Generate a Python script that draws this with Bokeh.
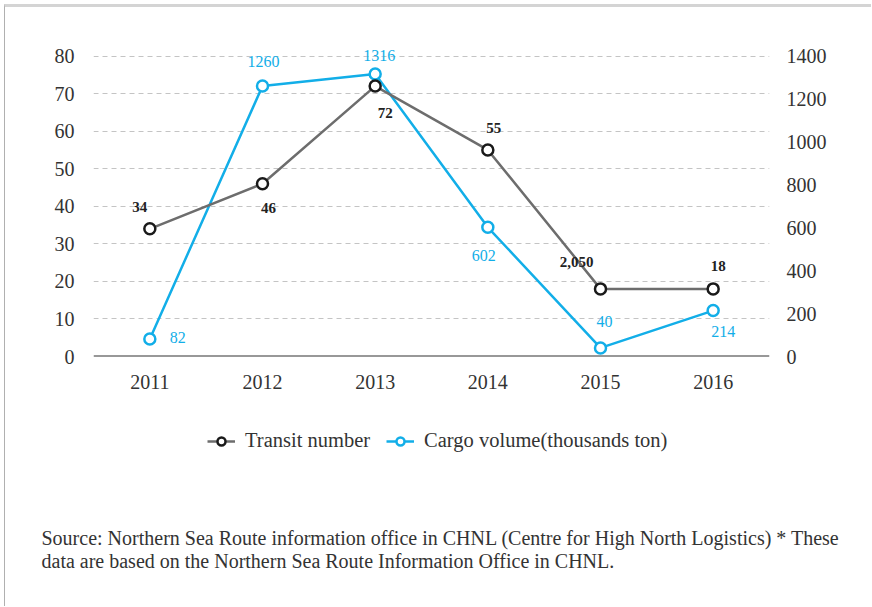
from bokeh.plotting import figure
from bokeh.layouts import column
from bokeh.models import (Range1d, LinearAxis, ColumnDataSource, Legend, LegendItem,
                          Label, Span, FixedTicker)
from bokeh.core.properties import value
from bokeh.embed import file_html
from bokeh.resources import INLINE

years = ["2011", "2012", "2013", "2014", "2015", "2016"]
transit = [34, 46, 72, 55, 18, 18]
transit_labels = ["34", "46", "72", "55", "2,050", "18"]
cargo = [82, 1260, 1316, 602, 40, 214]
cargo_labels = ["82", "1260", "1316", "602", "40", "214"]
left_ticks = [0, 10, 20, 30, 40, 50, 60, 70, 80]
right_ticks = [0, 200, 400, 600, 800, 1000, 1200, 1400]
series_names = ["Transit number", "Cargo volume(thousands ton)"]
source_lines = ["Source: Northern Sea Route information office in CHNL (Centre for High North Logistics) * These",
                "data are based on the Northern Sea Route Information Office in CHNL."]

# label offsets (screen px)
t_dx = [-10, 6, 10, 6, -24, 5]
t_dy = [-22, 24, 27, -22, -27, -23]
c_dx = [28, 1, 4, -4, 4, 10]
c_dy = [-1, -25, -19, 28, -26, 21]

FONT = "Liberation Serif"
GRAY = "#6d6d6d"
BLUE = "#12aee8"
W = 866
H1 = 394
H2 = 205

p = figure(width=W, height=H1, x_range=years, y_range=Range1d(0, 86),
           output_backend="svg", toolbar_location=None,
           min_border_left=88, min_border_right=102, min_border_top=26, min_border_bottom=45)
p.extra_y_ranges = {"right": Range1d(0, 86 * 17.5)}
p.outline_line_color = None
p.background_fill_color = "white"

# axes
p.yaxis.ticker = FixedTicker(ticks=left_ticks)
ra = LinearAxis(y_range_name="right", ticker=FixedTicker(ticks=right_ticks))
p.add_layout(ra, "right")
for ax, so in [(p.yaxis[0], 13), (ra, 11)]:
    ax.axis_line_color = None
    ax.major_tick_line_color = None
    ax.minor_tick_line_color = None
    ax.major_label_text_font = FONT
    ax.major_label_text_font_size = "20px"
    ax.major_label_text_color = "#333333"
    ax.major_label_standoff = so
p.xaxis.axis_line_color = None
p.xaxis.major_tick_line_color = None
p.xaxis.major_label_text_font = FONT
p.xaxis.major_label_text_font_size = "20px"
p.xaxis.major_label_text_color = "#333333"
p.xaxis.major_label_standoff = 12

p.xgrid.grid_line_color = None
p.ygrid.grid_line_color = "#c4c4c4"
p.ygrid.grid_line_dash = "5 4"
p.ygrid.grid_line_width = 1

p.add_layout(Span(location=0, dimension="width", line_color="#333333", line_width=2))

ts = ColumnDataSource(dict(x=years, y=transit, lab=transit_labels, dx=t_dx, dy=t_dy))
cs = ColumnDataSource(dict(x=years, y=cargo, lab=cargo_labels, dx=c_dx, dy=c_dy))

p.line("x", "y", source=cs, line_color=BLUE, line_width=2.5, y_range_name="right")
p.scatter("x", "y", source=cs, size=11, fill_color="white", line_color=BLUE,
          line_width=2.5, y_range_name="right")
p.line("x", "y", source=ts, line_color=GRAY, line_width=2.5)
p.scatter("x", "y", source=ts, size=11, fill_color="white", line_color="#1a1a1a",
          line_width=2.5)

p.text("x", "y", text="lab", source=ts, x_offset="dx", y_offset="dy",
       text_align="center", text_baseline="middle", text_font=value(FONT),
       text_font_size="15px", text_font_style="bold", text_color="#222222")
p.text("x", "y", text="lab", source=cs, x_offset="dx", y_offset="dy",
       text_align="center", text_baseline="middle", text_font=value(FONT),
       text_font_size="16px", text_color=BLUE, y_range_name="right")

# lower panel: legend + source note
q = figure(width=W, height=H2, x_range=Range1d(0, W), y_range=Range1d(0, H2),
           output_backend="svg", toolbar_location=None, min_border=0,
           min_border_left=0, min_border_right=0, min_border_top=0, min_border_bottom=0,
           x_axis_type=None, y_axis_type=None)
for fig in (p, q):
    try:
        fig.frame_align = False
    except AttributeError:
        pass
q.outline_line_color = None
q.xgrid.grid_line_color = None
q.ygrid.grid_line_color = None
nan = float("nan")
ql1 = q.line("x", "y", source=ColumnDataSource(dict(x=[nan], y=[nan])), line_color=GRAY, line_width=2.5)
qm1 = q.scatter("x", "y", source=ColumnDataSource(dict(x=[nan], y=[nan])), size=11, fill_color="white",
                line_color="#1a1a1a", line_width=2.5)
ql2 = q.line("x", "y", source=ColumnDataSource(dict(x=[nan], y=[nan])), line_color=BLUE, line_width=2.5)
qm2 = q.scatter("x", "y", source=ColumnDataSource(dict(x=[nan], y=[nan])), size=11, fill_color="white",
                line_color=BLUE, line_width=2.5)
legend = Legend(items=[LegendItem(label=series_names[0], renderers=[ql1, qm1]),
                       LegendItem(label=series_names[1], renderers=[ql2, qm2])],
                orientation="horizontal", location=(202, 154),
                label_text_font=FONT, label_text_font_size="20.5px",
                label_text_color="#333333", glyph_width=28, glyph_height=20,
                label_standoff=10, spacing=16, padding=0, margin=0,
                border_line_color=None, background_fill_alpha=0)
q.add_layout(legend, "center")

for txt, yy in zip(source_lines, [69, 46]):
    q.add_layout(Label(x=36, y=yy, text=txt, text_font=FONT, text_font_size="20px",
                       text_color="#333333", text_baseline="middle"))

layout = column(p, q, spacing=0)
layout.styles = {"border-top": "3px solid #d4d4d4", "border-left": "1px solid #b0b0b0",
                 "margin-top": "4px", "margin-left": "4px"}

open("out.html", "w").write(file_html(layout, INLINE))
